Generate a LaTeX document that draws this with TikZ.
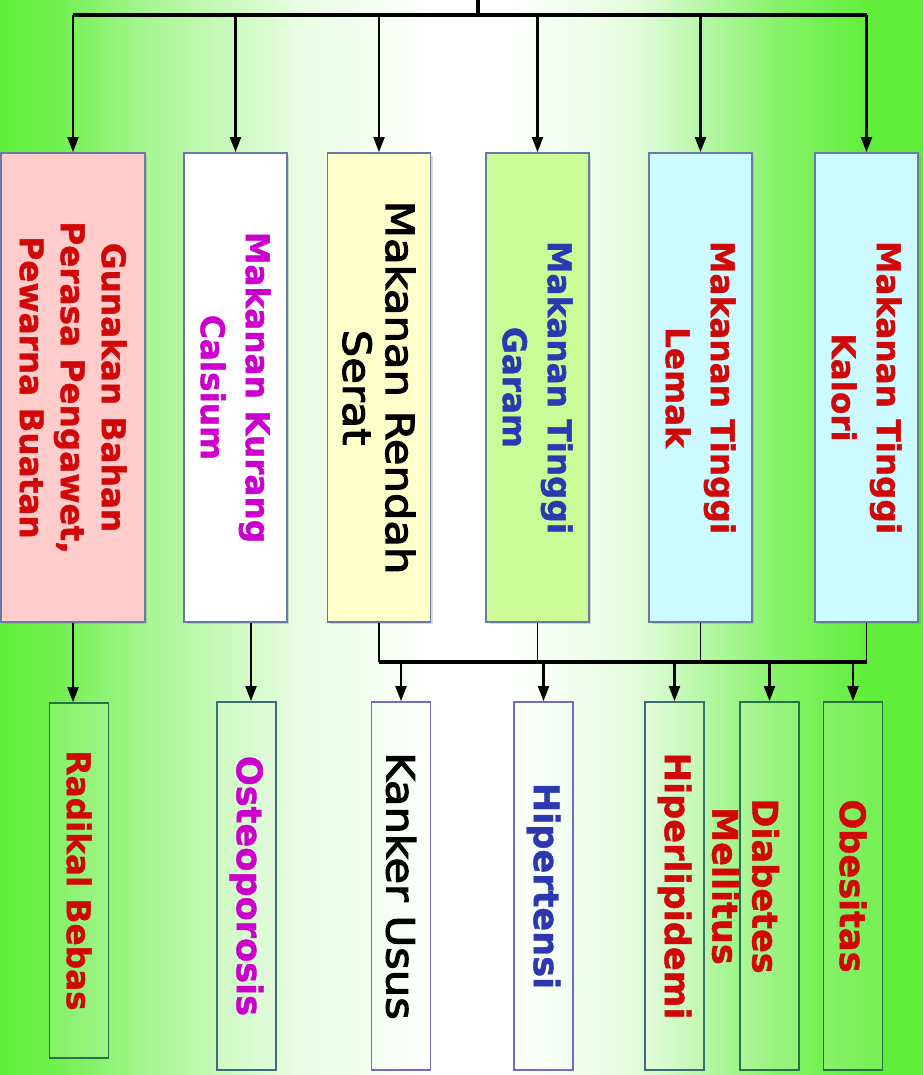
\documentclass[tikz,border=0pt]{standalone}
\usepackage{fontspec}
\setmainfont{DejaVu Sans}
\newfontfamily\heavyfont[BoldFont={DejaVu Sans Bold}, BoldFeatures={FakeBold=1.2}]{DejaVu Sans}
\newfontfamily\serfont[FakeStretch=1.12,FakeBold=3]{DejaVu Sans}
\usetikzlibrary{arrows.meta,shadows}

\definecolor{bggreen}{RGB}{96,238,58}
\definecolor{edgeblue}{RGB}{104,122,164}
\definecolor{pinkfill}{RGB}{255,204,204}
\definecolor{yellowfill}{RGB}{255,255,204}
\definecolor{limefill}{RGB}{204,250,150}
\definecolor{cyanfill}{RGB}{204,250,255}
\definecolor{txtred}{RGB}{208,8,8}
\definecolor{txtmagenta}{RGB}{204,0,204}
\definecolor{txtblue}{RGB}{44,56,176}
\definecolor{edgegreen}{RGB}{40,112,72}
\definecolor{edgeteal}{RGB}{60,110,120}
\definecolor{edgeviolet}{RGB}{110,110,196}

\pgfdeclarehorizontalshading{bgfade}{100bp}{color(0bp)=(bggreen); color(25bp)=(bggreen);
  color(28bp)=(bggreen!90!white); color(33bp)=(bggreen!55!white); color(41bp)=(bggreen!15!white);
  color(48.5bp)=(white); color(52.5bp)=(white); color(59.5bp)=(bggreen!18!white);
  color(67bp)=(bggreen!75!white); color(72bp)=(bggreen); color(100bp)=(bggreen)}

\tikzset{
  topbox/.style={draw=edgeblue, line width=1.1pt, minimum width=2.06cm, minimum height=9.38cm,
    inner sep=0pt, drop shadow={shadow xshift=0.05cm, shadow yshift=-0.05cm, opacity=0.3}},
  lowbox/.style={draw=#1, line width=1.1pt, fill=white, fill opacity=0.15, minimum width=1.18cm,
    minimum height=7.36cm, inner sep=0pt},
  headtxt/.style={opacity=1, rotate=-90, align=center, inner sep=0pt,
    font=\heavyfont\bfseries\fontsize{18.6pt}{25.6pt}\selectfont},
  lowtxt/.style={opacity=1, rotate=-90, align=center, inner sep=0pt,
    font=\heavyfont\bfseries\fontsize{20pt}{22.8pt}\selectfont},
  sertxt/.style={opacity=1, rotate=-90, align=center, inner sep=0pt, text=black,
    font=\serfont\fontsize{22pt}{24.4pt}\selectfont},
  busline/.style={line width=1.9pt},
  feedline/.style={line width=1.1pt},
  arrowline/.style={line width=1.2pt, -{Triangle[length=0.3cm,width=0.22cm]}}
}

\begin{document}
\begin{tikzpicture}[x=0.02cm, y=-0.02cm]
\useasboundingbox (0,0) rectangle (923,1075);
\shade[shading=bgfade] (0,0) rectangle (923,1075);

% causes
\node[topbox, fill=pinkfill, minimum width=2.88cm,
  label={[headtxt, text=txtred, font=\heavyfont\bfseries\fontsize{18.6pt}{23.3pt}\selectfont]center:{Gunakan Bahan\\Perasa Pengawet,\\Pewarna Buatan}}] (bahan) at (73,387.5) {};
\node[topbox, fill=white, label={[headtxt, text=txtmagenta]center:{Makanan Kurang\\Calsium}}] (calsium) at (235.5,387.5) {};
\node[topbox, fill=yellowfill, label={[sertxt]center:{Makanan Rendah\\Serat}}] (serat) at (379,387.5) {};
\node[topbox, fill=limefill, label={[headtxt, text=txtblue]center:{Makanan Tinggi\\Garam}}] (garam) at (537.5,387.5) {};
\node[topbox, fill=cyanfill, label={[headtxt, text=txtred]center:{Makanan Tinggi\\Lemak}}] (lemak) at (700.5,387.5) {};
\node[topbox, fill=cyanfill, label={[headtxt, text=txtred]center:{Makanan Tinggi\\Kalori}}] (kalori) at (866.5,387.5) {};

% diseases
\node[lowbox=edgegreen, minimum height=7.1cm, label={[lowtxt, text=txtred, font=\heavyfont\bfseries\fontsize{18.6pt}{22.8pt}\selectfont]center:{Radikal Bebas}}] (radikal) at (79,880.5) {};
\node[lowbox=edgeteal, label={[lowtxt, text=txtmagenta]center:{Osteoporosis}}] (osteo) at (246.5,886) {};
\node[lowbox=edgeviolet, label={[sertxt]center:{Kanker Usus}}] (kanker) at (401,886) {};
\node[lowbox=edgeviolet, label={[lowtxt, text=txtblue]center:{Hipertensi}}] (hipertensi) at (543.5,886) {};
\node[lowbox=edgeteal, label={[lowtxt, text=txtred]center:{Hiperlipidemi}}] (hiperlip) at (674.5,886) {};
\node[lowbox=edgegreen, label={[xshift=-0.48cm, lowtxt, text=txtred]center:{Diabetes\\Mellitus}}] (diabetes) at (769.5,886) {};
\node[lowbox=edgegreen, label={[lowtxt, text=txtred]center:{Obesitas}}] (obesitas) at (853,886) {};

% top bus
\coordinate (root) at (478,0);
\coordinate (topbus) at (478,15);
\draw[busline] (root) -- (topbus);
\draw[busline] (bahan.north |- topbus) -- (kalori.north |- topbus);
\foreach \n in {bahan,calsium,serat,garam,lemak,kalori}
  \draw[arrowline] (\n.north |- topbus) -- (\n.north);

% direct links
\draw[arrowline] (bahan.south) -- (bahan.south |- radikal.north);
\draw[arrowline] ([xshift=0.31cm]calsium.south) -- ([xshift=0.31cm]calsium.south |- osteo.north);

% lower bus
\coordinate (lowbus) at (0,662);
\foreach \n in {serat,garam,lemak,kalori}
  \draw[feedline] (\n.south) -- (\n.south |- lowbus);
\draw[busline] (serat.south |- lowbus) -- (kalori.south |- lowbus);
\foreach \n in {kanker,hipertensi,hiperlip,diabetes,obesitas}
  \draw[arrowline] (\n.north |- lowbus) -- (\n.north);
\end{tikzpicture}
\end{document}
